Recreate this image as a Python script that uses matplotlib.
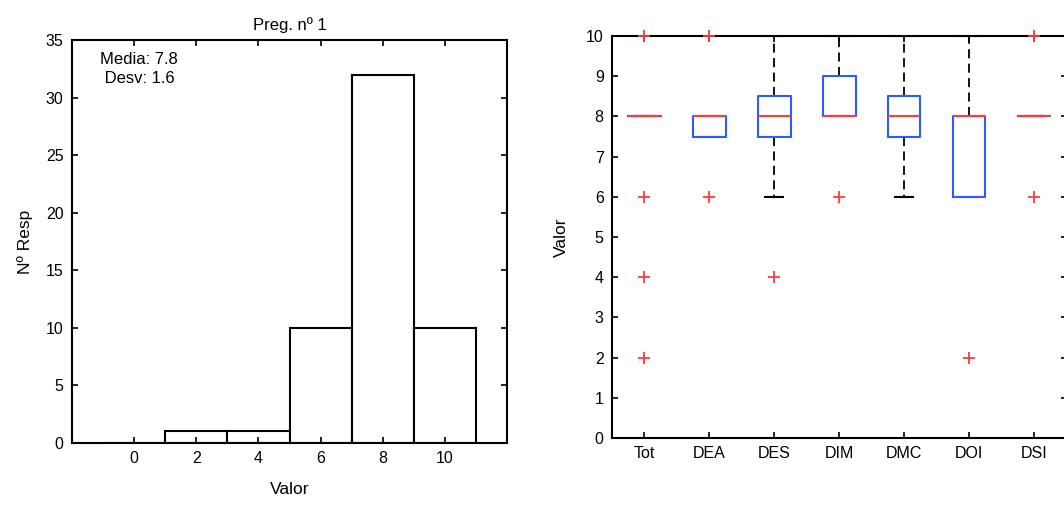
import matplotlib
matplotlib.use("Agg")
import matplotlib.pyplot as plt

plt.rcParams['font.family'] = ['Liberation Sans', 'DejaVu Sans']
plt.rcParams['font.size'] = 11.5

# histograma: valores y numero de respuestas
hist_valores = [0, 2, 4, 6, 8, 10]
hist_resp = [0, 1, 1, 10, 32, 10]
hist_ticks = [0, 2, 4, 6, 8, 10]
media = 7.8
desv = 1.6

# diagramas de caja por grupo
grupos = ['Tot', 'DEA', 'DES', 'DIM', 'DMC', 'DOI', 'DSI']
q1 = [8, 7.5, 7.5, 8, 7.5, 6, 8]
mediana = [8, 8, 8, 8, 8, 8, 8]
q3 = [8, 8, 8.5, 9, 8.5, 8, 8]
bigote_inf = [8, 7.5, 6, 8, 6, 6, 8]
bigote_sup = [8, 8, 10, 10, 10, 10, 8]
atipicos = [[10, 6, 4, 2], [10, 6], [4], [6], [], [2], [10, 6]]

fig = plt.figure(figsize=(10.64, 5.05), dpi=100)

# --- histograma ---
ax1 = fig.add_axes([0.0677, 0.1228, 0.4088, 0.798])
ax1.bar(hist_valores, hist_resp, width=2, color='white', edgecolor='black', linewidth=1.5)
ax1.set_xlim(-2, 12)
ax1.set_ylim(0, 35)
ax1.set_xticks(hist_ticks)
ax1.set_yticks(range(0, 36, 5))
ax1.set_title('Preg. nº 1', fontsize=12, pad=7)
ax1.set_xlabel('Valor', fontsize=12.5, labelpad=11)
ax1.set_ylabel('Nº Resp', fontsize=12.5, labelpad=9)
ax1.text(0.065, 0.97, f'Media: {media}\n Desv: {desv}', transform=ax1.transAxes,
         va='top', ha='left', fontsize=12, linespacing=1.3)

# --- cajas ---
ax2 = fig.add_axes([0.5752, 0.1327, 0.4272, 0.796])
stats = []
for i, g in enumerate(grupos):
    stats.append(dict(label=g, q1=q1[i], med=mediana[i], q3=q3[i],
                      whislo=bigote_inf[i], whishi=bigote_sup[i], fliers=atipicos[i]))
res = ax2.bxp(stats, positions=range(1, len(grupos) + 1), widths=0.5, showfliers=True,
              boxprops=dict(color='#2b5cff', linewidth=1.5, zorder=3),
              medianprops=dict(color='#ff3a3a', linewidth=1.5, zorder=4),
              whiskerprops=dict(color='black', linestyle=(0, (5, 3)), linewidth=1.3, zorder=2),
              capprops=dict(color='black', linewidth=1.5, zorder=2),
              capwidths=0.28,
              flierprops=dict(marker='+', markeredgecolor='#ff3a3a', markersize=9,
                              markeredgewidth=1.3, linestyle='none'))
for fl in res['fliers']:
    fl.set_clip_on(False)
    fl.set_zorder(5)
ax2.set_xlim(0.5, 7.5)
ax2.set_ylim(0, 10)
ax2.set_yticks(range(0, 11))
ax2.set_xticklabels(grupos)
ax2.set_ylabel('Valor', fontsize=12.5, labelpad=12)

for ax in (ax1, ax2):
    for s in ax.spines.values():
        s.set_linewidth(1.5)
    ax.tick_params(direction='in', length=4, width=1.2, top=True, right=True,
                   labelsize=11.5, pad=6)

fig.savefig('out.png', dpi=100)
